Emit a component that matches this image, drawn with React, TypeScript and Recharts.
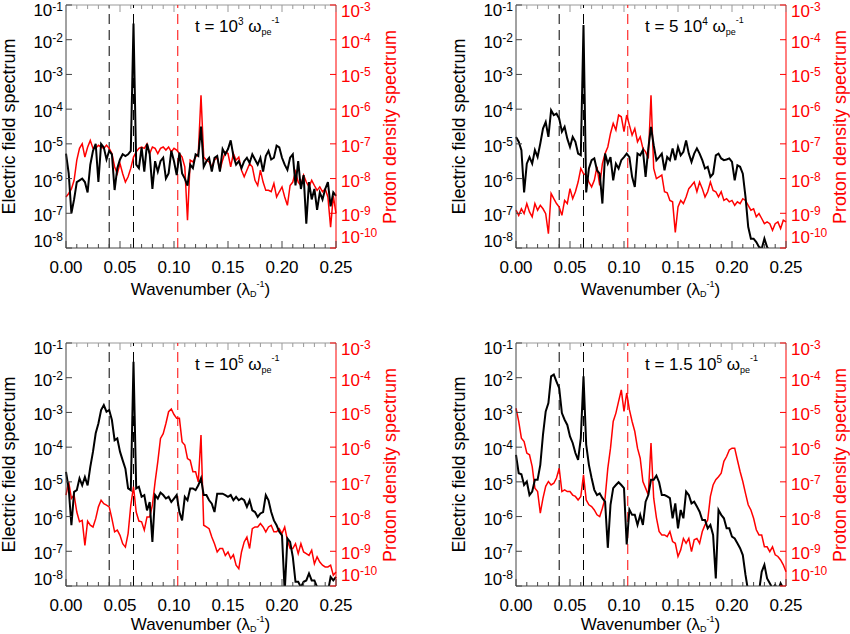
import React from "react"
import { LineChart, Line, XAxis, YAxis, ReferenceLine } from "recharts"

// sampled wavenumbers (1/lambda_D)
const wavenumber = [
  0, 0.0025, 0.005, 0.0075, 0.01, 0.0125, 0.015, 0.0175, 0.02, 0.0225,
  0.025, 0.0275, 0.03, 0.0325, 0.035, 0.0375, 0.04, 0.0425, 0.045, 0.0475,
  0.05, 0.0525, 0.055, 0.0575, 0.06, 0.0625, 0.065, 0.0675, 0.07, 0.0725,
  0.075, 0.0775, 0.08, 0.0825, 0.085, 0.0875, 0.09, 0.0925, 0.095, 0.0975,
  0.1, 0.1025, 0.105, 0.1075, 0.11, 0.1125, 0.115, 0.1175, 0.12, 0.1225,
  0.125, 0.1275, 0.13, 0.1325, 0.135, 0.1375, 0.14, 0.1425, 0.145, 0.1475,
  0.15, 0.1525, 0.155, 0.1575, 0.16, 0.1625, 0.165, 0.1675, 0.17, 0.1725,
  0.175, 0.1775, 0.18, 0.1825, 0.185, 0.1875, 0.19, 0.1925, 0.195, 0.1975,
  0.2, 0.2025, 0.205, 0.2075, 0.21, 0.2125, 0.215, 0.2175, 0.22, 0.2225,
  0.225, 0.2275, 0.23, 0.2325, 0.235, 0.2375, 0.24, 0.2425, 0.245, 0.2475,
  0.25,
]

const xTicks = [
  0, 0.01, 0.02, 0.03, 0.04, 0.05, 0.06, 0.07, 0.08, 0.09, 0.1, 0.11, 0.12,
  0.13, 0.14, 0.15, 0.16, 0.17, 0.18, 0.19, 0.2, 0.21, 0.22, 0.23, 0.24, 0.25,
]
const fieldTicks = [1e-8, 1e-7, 1e-6, 1e-5, 1e-4, 1e-3, 1e-2, 1e-1]
const densityTicks = [1e-10, 1e-9, 1e-8, 1e-7, 1e-6, 1e-5, 1e-4, 1e-3]

// dashed markers
const blackMarkers = [0.04, 0.0625]
const redMarker = 0.1035

// log10 of the spectra
// t = 1e3
const p1Field = [
  -5.28, -5.85, -7.0, -6.6, -6.1, -6.05, -6.0, -6.1, -6.4, -5.6,
  -5.2, -5.0, -6.1, -5.0, -5.1, -5.45, -5.2, -5.3, -6.33, -5.7,
  -5.45, -5.3, -5.35, -5.3, -5.2, -1.53, -5.6, -5.7, -5.1, -5.8,
  -5.0, -5.3, -6.3, -5.5, -5.8, -5.5, -5.4, -6.0, -5.85, -5.2,
  -5.5, -5.9, -5.25, -5.85, -6.0, -6.2, -5.6, -5.7, -5.3, -5.35,
  -4.5,
  -5.66, -5.5, -5.4, -5.8, -5.4, -5.35, -5.8, -5.15, -5.3, -5.15,
  -4.9, -5.35, -5.6, -5.5, -5.7, -5.5, -5.4, -5.55, -5.3, -5.45,
  -5.6, -5.4, -5.8, -5.35, -5.2, -5.45, -5.4, -5.05, -5.1, -5.4,
  -5.6, -5.75, -5.4, -5.3, -6.2, -5.5, -6.3, -5.9, -7.3, -6.1,
  -6.6, -6.3, -6.9, -6.4, -6.6, -6.3, -6.1, -6.8, -6.4, -6.5,
]
const p1Density = [
  -8.53, -8.43, -8.3, -8.05, -7.47, -7.13, -7.0, -7.38, -7.1, -6.9,
  -7.13, -7.13, -7.04, -7.09, -7.13, -7.04, -7.13, -7.28, -7.66, -7.86,
  -7.57, -7.86, -8.1, -7.95, -7.7, -7.38, -7.23, -7.13, -7.09, -7.13,
  -7.0, -7.28, -7.09, -7.13, -7.28, -7.13, -7.09, -7.18, -7.09, -7.23,
  -7.13, -7.18, -7.28, -7.38, -7.66, -9.2, -7.47, -7.52, -7.38, -7.28,
  -5.6,
  -7.38, -7.47, -7.52, -7.66, -7.47, -7.38, -7.76, -7.47, -7.23, -7.28,
  -7.66, -7.28, -7.47, -7.38, -7.76, -7.95, -7.76, -7.57, -7.66, -8.05,
  -8.2, -7.76, -8.1, -8.34, -8.34, -8.38, -8.14, -8.53, -8.38, -8.24,
  -8.53, -8.77, -8.2, -8.1, -7.8, -8.1, -8.2, -7.9, -8.1, -8.24,
  -8.05, -8.2, -8.34, -8.24, -8.38, -8.3, -8.53, -9.4, -8.5, -9.0,
]

// t = 5e4
const p2Field = [
  -4.8, -4.94, -5.18, -6.4, -5.57, -5.38, -5.57, -5.18, -5.38, -4.99,
  -4.56, -4.37, -4.8, -4.03, -4.17, -4.13, -4.27, -4.65, -4.51, -4.85,
  -5.09, -4.8, -4.94, -5.28, -5.33, -1.58, -6.4, -5.71, -5.47, -5.42,
  -5.76, -5.86, -6.72, -5.28, -5.57, -5.38, -6.05, -5.57, -5.71, -5.47,
  -5.38, -5.28, -5.38, -5.95, -6.24, -5.28, -5.33, -5.18, -5.95, -5.13,
  -4.51,
  -5.04, -5.47, -5.38, -5.28, -5.76, -5.38, -5.47, -5.13, -5.47, -5.09,
  -5.33, -5.23, -4.9, -5.28, -5.52, -5.28, -5.13, -5.28, -5.47, -5.71,
  -5.66, -5.95, -5.86, -5.33, -5.28, -5.42, -5.47, -5.45, -5.42, -5.52,
  -6.05, -5.62, -5.66, -5.86, -6.53, -7.39, -7.73, -7.73, -7.83, -7.97,
  -8.02, -7.73, -7.97, -8.1, -8.15, -8.25, -8.15, -8.25, -8.2, -8.2,
]
const p2Density = [
  -8.91, -9.06, -8.87, -9.01, -8.72, -8.96, -9.1, -8.72, -8.91, -8.77,
  -8.87, -9.01, -9.59, -8.43, -8.58, -8.72, -8.82, -9.06, -8.63, -8.72,
  -8.29, -8.58, -8.38, -8.1, -7.71, -7.86, -7.9, -8.1, -8.24, -8.05,
  -7.66, -8.2, -7.57, -7.28, -7.09, -6.7, -6.41, -6.6, -6.17, -6.22,
  -6.65, -6.17, -6.46, -6.75, -6.56, -6.94, -6.8, -7.13, -7.23, -7.42,
  -5.6,
  -7.71, -8.0, -7.95, -7.9, -8.38, -8.41, -8.63, -8.67, -9.55, -8.82,
  -8.63, -8.72, -8.53, -8.29, -8.2, -8.1, -8.38, -8.1, -8.29, -8.53,
  -8.38, -8.1, -8.34, -8.38, -8.53, -8.38, -8.63, -8.58, -8.67, -8.63,
  -8.77, -8.67, -8.72, -8.58, -8.63, -8.77, -8.91, -8.87, -9.1, -9.01,
  -9.15, -9.3, -9.25, -9.3, -9.49, -9.3, -9.25, -9.44, -9.2, -9.25,
]

// t = 1e5
const p3Field = [
  -4.71, -5.19, -6.25, -5.29, -5.24, -4.9, -5.1, -4.86, -5.1, -4.57,
  -4.13, -3.6, -3.32, -2.93, -2.79, -2.98, -2.93, -3.22, -3.8, -3.75,
  -4.13, -4.38, -4.62, -5.19, -5.24, -1.54, -5.19, -5.14, -5.43, -5.38,
  -5.82, -5.58, -6.73, -5.38, -5.48, -5.31, -5.38, -5.48, -5.43, -5.58,
  -5.48, -5.38, -5.87, -6.11, -5.43, -5.53, -5.19, -5.19, -5.24, -5.1,
  -4.9,
  -5.38, -5.38, -5.53, -5.63, -5.87, -5.34, -5.34, -5.34, -5.38, -5.43,
  -5.38, -5.53, -5.43, -5.53, -5.48, -5.53, -5.72, -5.53, -5.82, -5.87,
  -6.01, -5.91, -5.87, -5.38, -5.53, -5.87, -6.11, -6.25, -6.44, -6.54,
  -8.17, -6.63, -6.73, -7.16, -7.88, -7.88, -8.03, -7.88, -7.84, -7.64,
  -7.84, -7.84, -8.03, -8.08, -8.17, -8.27, -8.17, -7.74, -7.84, -7.74,
]
const p3Density = [
  -7.38, -7.0, -7.48, -7.38, -7.87, -8.15, -8.11, -8.83, -8.13, -8.25,
  -8.3, -8.06, -7.72, -7.53, -7.63, -7.67, -7.72, -8.06, -8.44, -8.39,
  -8.54, -8.78, -8.88, -8.49, -7.67, -7.14, -7.87, -8.13, -8.15, -8.39,
  -8.01, -8.01, -7.67, -7.0, -6.42, -5.75, -5.61, -5.32, -4.98, -4.9,
  -5.06, -5.17, -5.17, -5.85, -5.94, -6.33, -6.38, -6.71, -6.71, -7.0,
  -5.65,
  -8.25, -8.3, -8.35, -8.59, -8.78, -9.02, -8.92, -8.92, -9.12, -9.02,
  -9.21, -9.1, -9.4, -9.5, -9.02, -8.73, -8.59, -8.92, -8.35, -8.3,
  -8.3, -8.2, -8.3, -8.44, -8.3, -8.25, -8.44, -8.44, -8.35, -8.49,
  -8.3, -8.68, -8.92, -8.92, -8.78, -9.07, -8.78, -9.02, -9.07, -9.12,
  -8.97, -9.36, -9.16, -9.31, -9.4, -9.45, -9.45, -9.4, -9.69, -9.6,
]

// t = 1.5e5
const p4Field = [
  -4.22, -4.75, -4.78, -5.09, -4.99, -5.38, -5.28, -4.94, -4.94, -4.51,
  -3.64, -2.97, -2.73, -1.96, -1.91, -2.11, -2.3, -3.02, -3.21, -3.36,
  -3.69, -3.88, -4.17, -4.37, -3.74, -1.96, -3.93, -4.51, -4.89, -5.23,
  -5.38, -5.33, -5.47, -5.57, -6.9, -5.66, -5.18, -5.09, -5.01, -5.09,
  -5.18, -6.8, -5.8, -5.95, -5.95, -6.24, -5.95, -6.24, -5.57, -5.38,
  -4.94,
  -4.94, -4.82, -5.01, -5.38, -5.38, -5.42, -5.47, -6.05, -5.62, -6.34,
  -5.81, -6.05, -5.28, -5.38, -5.62, -5.57, -5.71, -5.86, -6.1, -6.1,
  -6.34, -6.24, -6.53, -7.78, -5.81, -5.95, -6.05, -6.34, -6.34, -6.58,
  -6.63, -6.77, -6.91, -7.11, -7.68, -8.16, -8.26, -8.3, -8.26, -8.16,
  -7.59, -7.39, -7.78, -7.92, -8.07, -7.97, -8.16, -7.92, -8.07, -8.16,
]
const p4Density = [
  -4.88, -5.26, -5.74, -5.84, -6.17, -6.22, -6.56, -7.18, -7.28, -7.9,
  -7.47, -7.13, -6.99, -7.09, -7.04, -6.89, -6.61, -7.28, -7.23, -7.28,
  -7.28, -7.38, -7.42, -7.52, -7.42, -6.8, -7.52, -7.66, -7.71, -7.81,
  -7.95, -8.0, -7.76, -7.47, -6.61, -6.03, -5.26, -5.02, -4.68, -4.35,
  -4.97, -4.44, -4.92, -5.26, -5.55, -6.03, -6.32, -6.99, -7.18, -7.38,
  -5.88,
  -7.47, -8.03, -8.43, -8.53, -8.53, -8.58, -8.43, -8.72, -8.77, -9.15,
  -8.96, -8.63, -8.77, -8.63, -9.01, -8.67, -8.63, -8.77, -8.43, -8.24,
  -8.1, -7.42, -7.09, -6.94, -6.85, -6.75, -6.41, -6.27, -6.08, -6.03,
  -6.03, -6.37, -6.7, -6.99, -7.33, -7.66, -7.81, -8.05, -8.38, -8.53,
  -8.53, -8.87, -8.87, -9.01, -8.87, -9.1, -9.15, -9.25, -9.39, -9.59,
]

const FONT = '"Liberation Sans", Arial, Helvetica, sans-serif'
const RED = "#ff0000"
// plot box inside each chart (chart sits 10px above its panel)
const BOX = { left: 66, right: 336, top: 15, bottom: 258 }

function toRows(field: number[], density: number[]) {
  return wavenumber.map((k, i) => ({
    k,
    field: Math.pow(10, field[i]),
    density: Math.pow(10, density[i]),
  }))
}

const XTick = (props: any) => {
  const { x, payload } = props
  const v = payload.value as number
  const major = Math.round(v * 100) % 5 === 0
  const len = major ? 7 : 4
  return (
    <g>
      <line x1={x} x2={x} y1={BOX.bottom} y2={BOX.bottom - len} stroke="#444" />
      <line x1={x} x2={x} y1={BOX.top} y2={BOX.top + len} stroke="#999" />
      {major && (
        <text x={x} y={BOX.bottom + 25} textAnchor="middle" fontSize={17} fill="#000" fontFamily={FONT}>
          {v.toFixed(2)}
        </text>
      )}
    </g>
  )
}

const LeftTick = (props: any) => {
  const { y, payload } = props
  const exp = Math.round(Math.log10(payload.value))
  let ty = y + 8
  let sup = -6
  if (exp === -1) {
    ty = y + 11
    sup = -5
  }
  if (exp === -8) ty = y - 1
  return (
    <g>
      <line x1={BOX.left} x2={BOX.left + 6} y1={y} y2={y} stroke="#444" />
      <text x={BOX.left - 3} y={ty} textAnchor="end" fontSize={17} fill="#000" fontFamily={FONT}>
        10<tspan dy={sup} fontSize={12}>{exp}</tspan>
      </text>
    </g>
  )
}

const RightTick = (props: any) => {
  const { y, payload } = props
  const exp = Math.round(Math.log10(payload.value))
  let ty = y + 8
  if (exp === -3) ty = y + 12
  if (exp === -10) ty = y - 5
  return (
    <g>
      <line x1={BOX.right} x2={BOX.right - 6} y1={y} y2={y} stroke={RED} />
      <text x={BOX.right + 5} y={ty} textAnchor="start" fontSize={17} fill={RED} fontFamily={FONT}>
        10<tspan dy={-6} fontSize={12}>{exp}</tspan>
      </text>
    </g>
  )
}

function SpectrumPanel({ field, density }: { field: number[]; density: number[] }) {
  const data = toRows(field, density)
  return (
    <LineChart width={400} height={306} data={data} margin={{ top: 15, right: 8, bottom: 18, left: 6 }}>
      <XAxis
        dataKey="k"
        type="number"
        domain={[0, 0.25]}
        ticks={xTicks}
        interval={0}
        height={30}
        tickLine={false}
        axisLine={{ stroke: "#444" }}
        tick={<XTick />}
      />
      <YAxis
        yAxisId="left"
        scale="log"
        domain={[1e-8, 1e-1]}
        ticks={fieldTicks}
        interval={0}
        allowDataOverflow
        width={60}
        tickLine={false}
        axisLine={{ stroke: "#444" }}
        tick={<LeftTick />}
      />
      <YAxis
        yAxisId="right"
        orientation="right"
        scale="log"
        domain={[1e-10, 1e-3]}
        ticks={densityTicks}
        interval={0}
        allowDataOverflow
        width={56}
        tickLine={false}
        axisLine={{ stroke: RED }}
        tick={<RightTick />}
      />
      <ReferenceLine yAxisId="left" y={1e-1} stroke="#999" />
      {blackMarkers.map((m) => (
        <ReferenceLine key={m} yAxisId="left" x={m} stroke="#000" strokeDasharray="10 6" />
      ))}
      <ReferenceLine yAxisId="left" x={redMarker} stroke={RED} strokeDasharray="10 6" />
      <Line
        yAxisId="right"
        type="linear"
        dataKey="density"
        stroke={RED}
        strokeWidth={1.5}
        dot={false}
        isAnimationActive={false}
      />
      <Line
        yAxisId="left"
        type="linear"
        dataKey="field"
        stroke="#000"
        strokeWidth={2}
        dot={false}
        isAnimationActive={false}
      />
    </LineChart>
  )
}

const panels = [
  { field: p1Field, density: p1Density, left: 0, top: 0, pre: "t = 10", pow: "3", titleY: 295 },
  { field: p2Field, density: p2Density, left: 450, top: 0, pre: "t = 5 10", pow: "4", titleY: 295 },
  { field: p3Field, density: p3Density, left: 0, top: 338, pre: "t = 10", pow: "5", titleY: 292 },
  { field: p4Field, density: p4Density, left: 450, top: 338, pre: "t = 1.5 10", pow: "5", titleY: 292 },
]

export default function App() {
  return (
    <div
      style={{
        position: "fixed",
        left: 0,
        top: 0,
        width: 850,
        height: 634,
        background: "#fff",
        overflow: "hidden",
        fontFamily: FONT,
      }}
    >
      {panels.map((p, i) => (
        <div key={i} style={{ position: "absolute", left: p.left, top: p.top - 10 }}>
          <SpectrumPanel field={p.field} density={p.density} />
        </div>
      ))}

      {/* titles and axis labels */}
      <svg width={850} height={634} style={{ position: "absolute", left: 0, top: 0, pointerEvents: "none" }}>
        {panels.map((p, i) => (
          <g key={i} fontFamily={FONT}>
            <text x={p.left + 195} y={p.top + 32} fontSize={17} fill="#000">
              {p.pre}
              <tspan dy={-7} fontSize={10}>{p.pow}</tspan>
              <tspan dy={7}> ω</tspan>
              <tspan dy={3} fontSize={9}>pe</tspan>
              <tspan dy={-12} fontSize={9}>-1</tspan>
            </text>
            <text
              transform={`translate(${p.left + 15},${p.top + 126.5}) rotate(-90)`}
              textAnchor="middle"
              fontSize={18}
              fill="#000"
            >
              Electric field spectrum
            </text>
            <text
              transform={`translate(${p.left + 396},${p.top + 127}) rotate(-90)`}
              textAnchor="middle"
              fontSize={18}
              fill={RED}
            >
              Proton density spectrum
            </text>
            <text x={p.left + 200.5} y={p.top + p.titleY} textAnchor="middle" fontSize={17} fill="#000">
              Wavenumber (λ
              <tspan dy={2} fontSize={9}>D</tspan>
              <tspan dy={-10} fontSize={9}>-1</tspan>
              <tspan dy={8}>)</tspan>
            </text>
          </g>
        ))}
      </svg>
    </div>
  )
}
